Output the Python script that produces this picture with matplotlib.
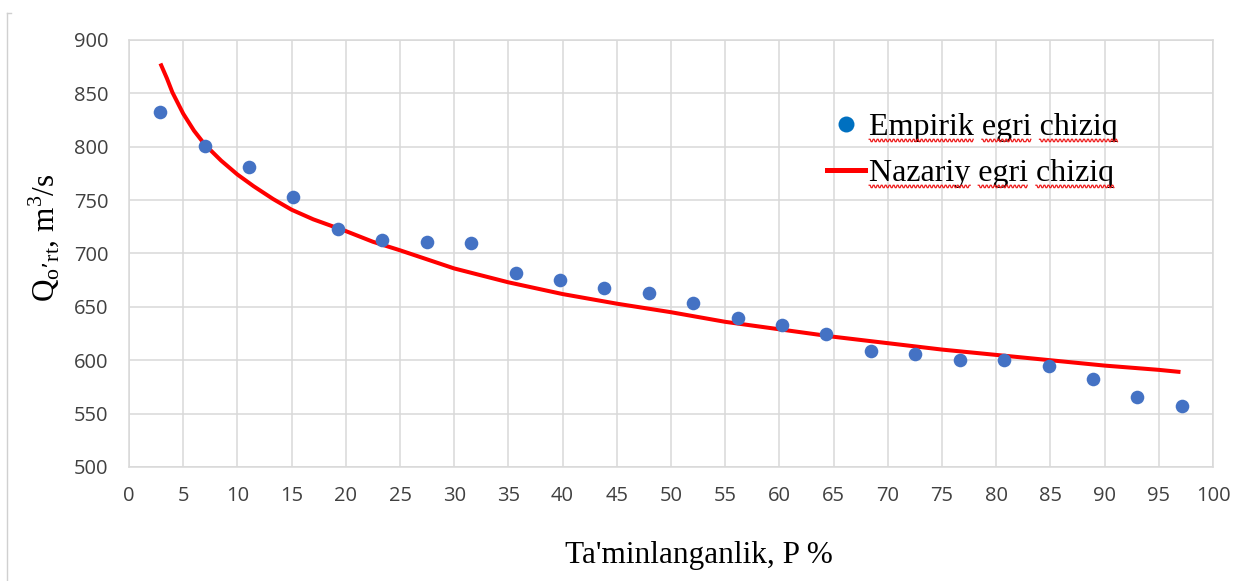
import matplotlib
matplotlib.use("Agg")
import numpy as np
import matplotlib.pyplot as plt
from matplotlib.lines import Line2D
from matplotlib.textpath import TextToPath
from matplotlib.font_manager import FontProperties

# Empirical points (P %, Q m3/s)
emp_p = [2.87, 6.97, 11.07, 15.16, 19.26, 23.36, 27.46, 31.56, 35.66, 39.75, 43.85, 47.95,
         52.05, 56.15, 60.25, 64.34, 68.44, 72.54, 76.64, 80.74, 84.84, 88.93, 93.03, 97.13]
emp_q = [833, 801, 781, 753, 723, 713, 711, 710, 682, 675, 668, 663,
         654, 640, 633, 625, 609, 606, 600, 600, 595, 582, 566, 557]

# Theoretical curve
th_p = [2.9, 3.5, 4, 5, 6, 7, 8.5, 10, 11.5, 13.3, 15, 17, 20, 22.5, 25, 30, 35, 40, 45,
        50, 55, 60, 65, 70, 75, 80, 85, 90, 95, 97]
th_q = [878, 864, 851, 831, 815, 802, 787, 774, 763, 751, 741, 732, 721, 711, 703, 686, 673,
        662, 653, 645, 636, 629, 622, 616, 610, 605, 600, 595, 591, 589]

x_ticks = list(range(0, 101, 5))
y_ticks = list(range(500, 901, 50))
legend_labels = ["Empirik egri chiziq", "Nazariy egri chiziq"]

W, H = 1258, 581
fig = plt.figure(figsize=(W / 100, H / 100), dpi=100)
ax = fig.add_axes([129 / W, 1 - 467 / H, (1213 - 129) / W, (467 - 40) / H])

grid_c = "#d9d9d9"
ax.set_xlim(0, 100)
ax.set_ylim(500, 900)
ax.set_xticks(x_ticks)
ax.set_yticks(y_ticks)
ax.grid(True, color=grid_c, linewidth=1.1)
ax.set_axisbelow(True)
for s in ax.spines.values():
    s.set_color(grid_c)
    s.set_linewidth(1.1)
ax.tick_params(length=0, labelsize=14.5, labelcolor="#404040")
ax.tick_params(axis="x", pad=14)
ax.tick_params(axis="y", pad=15)
for lab in ax.get_xticklabels() + ax.get_yticklabels():
    lab.set_fontfamily("Open Sans")

ax.plot(th_p, th_q, color="#ff0000", linewidth=2.9, zorder=3, solid_capstyle="butt")
ax.plot(emp_p, emp_q, linestyle="none", marker="o", markersize=9.8, color="#4472c4",
        markeredgewidth=0, zorder=4)

ax.set_xlabel("Ta'minlanganlik, P %", family="Liberation Serif", fontsize=22.5)
ax.xaxis.set_label_coords((699 - 129) / (1213 - 129), 1 - (555 - 40) / 427)
ax.xaxis.label.set_va("center")
ax.set_ylabel("Q$_{\\mathregular{o\u2019rt}}$, m$^{\\mathregular{3}}$/s",
              family="Liberation Serif", fontsize=22.5)
ax.yaxis.set_label_coords((44 - 129) / (1213 - 129), 1 - (238 - 40) / 427)
ax.yaxis.label.set_va("center")

handles = [Line2D([], [], linestyle="none", marker="o", markersize=11.5, color="#0070c0",
                  markeredgewidth=0),
           Line2D([], [], color="#ff0000", linewidth=3.6)]
leg = ax.legend(handles, legend_labels,
                loc="upper left", bbox_to_anchor=((827 - 129) / (1213 - 129), 1 - (113 - 40) / 427),
                frameon=False, prop={"family": "Liberation Serif", "size": 23},
                handlelength=1.2, handletextpad=0.12, labelspacing=0.52, borderaxespad=0,
                borderpad=0)

# outer frame fragment at left
fig.add_artist(Line2D([7 / W, 7 / W], [0, 1 - 13 / H], transform=fig.transFigure,
                      color="#d0d0d0", linewidth=1))
fig.add_artist(Line2D([7 / W, 11 / W], [1 - 13 / H, 1 - 13 / H], transform=fig.transFigure,
                      color="#d0d0d0", linewidth=1))

# spell-check style wavy underlines under legend words
fig.canvas.draw()
renderer = fig.canvas.get_renderer()
t2p = TextToPath()
fp = FontProperties(family="Liberation Serif", size=23)
px_per_pt = fig.dpi / 72.0
inv = fig.transFigure.inverted()
for txt in leg.get_texts():
    s = txt.get_text()
    bb = txt.get_window_extent(renderer)
    _, _, d_full = t2p.get_text_width_height_descent(s, fp, ismath=False)
    baseline = bb.y0 + d_full * px_per_pt
    pos = 0
    for word in s.split(" "):
        start = s.index(word, pos)
        w_pre = t2p.get_text_width_height_descent(s[:start], fp, ismath=False)[0] if start else 0
        w_word = t2p.get_text_width_height_descent(word, fp, ismath=False)[0]
        x0 = bb.x0 + w_pre * px_per_pt
        x1 = x0 + w_word * px_per_pt
        xs = np.arange(x0, x1, 1.0)
        ys = baseline - 5 + 1.2 * np.where((np.floor((xs - x0) / 2) % 2) == 0, 1, -1)
        pts = inv.transform(np.column_stack([xs, ys]))
        fig.add_artist(Line2D(pts[:, 0], pts[:, 1], transform=fig.transFigure,
                              color="#ee1c1c", linewidth=0.9))
        pos = start + len(word)

fig.savefig("out.png", dpi=100, facecolor="white")
